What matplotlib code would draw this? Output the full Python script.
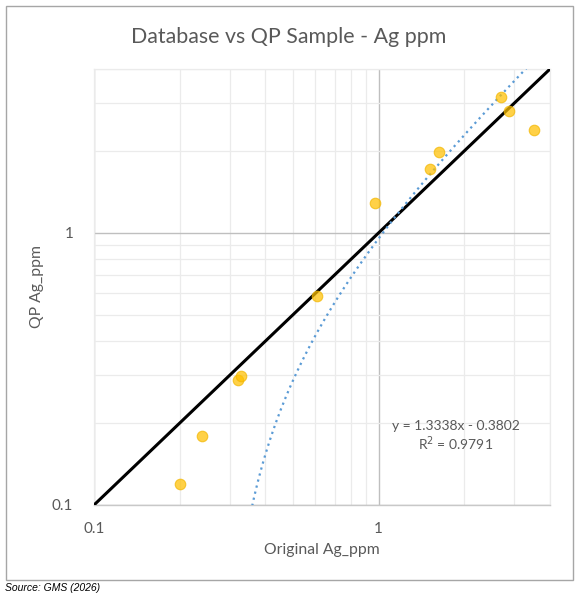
import numpy as np
import matplotlib
matplotlib.use("Agg")
import matplotlib.pyplot as plt
from matplotlib.patches import Rectangle
from matplotlib.ticker import FixedLocator, NullFormatter

# ---- data ----
original_ag = [0.200, 0.239, 0.320, 0.328, 0.608, 0.974, 1.52, 1.63, 2.69, 2.86, 3.52]
qp_ag = [0.119, 0.179, 0.287, 0.299, 0.584, 1.29, 1.72, 1.99, 3.15, 2.80, 2.38]
trend_slope = 1.3338
trend_intercept = -0.3802
r_squared = 0.9791
axis_min, axis_max = 0.1, 4
major_ticks = [0.1, 1]
major_labels = ["0.1", "1"]
minor_ticks = [0.2, 0.3, 0.4, 0.5, 0.6, 0.7, 0.8, 0.9, 2, 3, 4]

title = "Database vs QP Sample - Ag ppm"
xlabel = "Original Ag_ppm"
ylabel = "QP Ag_ppm"
source = "Source: GMS (2026)"

plt.rcParams['font.family'] = ['Lato', 'DejaVu Sans']
gray_txt = '#595959'

fig = plt.figure(figsize=(5.8, 5.97), dpi=100)
W, H = 580, 597

# outer chart frame
fig.patches.append(Rectangle((5.5 / W, 1 - 580 / H), 567 / W, 574 / H,
                             transform=fig.transFigure, fill=False,
                             edgecolor='#a6a6a6', linewidth=1.0))

ax = fig.add_axes([94 / W, 1 - 505 / H, 456 / W, 436 / H])
ax.set_xscale('log')
ax.set_yscale('log')
ax.set_xlim(axis_min, axis_max)
ax.set_ylim(axis_min, axis_max)

ax.xaxis.set_major_locator(FixedLocator(major_ticks))
ax.yaxis.set_major_locator(FixedLocator(major_ticks))
ax.xaxis.set_minor_locator(FixedLocator(minor_ticks))
ax.yaxis.set_minor_locator(FixedLocator(minor_ticks))
ax.set_xticklabels(major_labels)
ax.set_yticklabels(major_labels)
ax.xaxis.set_minor_formatter(NullFormatter())
ax.yaxis.set_minor_formatter(NullFormatter())
ax.tick_params(which='both', length=0)
ax.tick_params(axis='x', pad=12, labelsize=11, labelcolor=gray_txt)
ax.tick_params(axis='y', pad=15, labelsize=11, labelcolor=gray_txt)

ax.grid(which='minor', color='#ebebeb', linewidth=0.9)
ax.grid(which='major', color='#bfbfbf', linewidth=1.0)
ax.set_axisbelow(True)
for s in ['top', 'right', 'left']:
    ax.spines[s].set_color('#ebebeb')
    ax.spines[s].set_linewidth(0.9)
ax.spines['bottom'].set_color('#c8c8c8')
ax.spines['bottom'].set_linewidth(1.0)

# 1:1 line
ax.plot([axis_min, axis_max], [axis_min, axis_max], color='black',
        linewidth=2.2, zorder=3, solid_capstyle='butt')

# linear trendline over data range
tx = np.logspace(np.log10(min(original_ag)), np.log10(max(original_ag)), 400)
ty = trend_slope * tx + trend_intercept
ty = np.where(ty > 0, ty, np.nan)
ax.plot(tx, ty, color='#5B9BD5', linewidth=1.6, linestyle=(0, (1, 1.8)),
        zorder=4)

# points
ax.scatter(original_ag, qp_ag, s=58, facecolor='#FFC000', alpha=0.72,
           edgecolor='#F2B600', linewidth=0.8, zorder=5)

# equation
ax.text(456 / W, 1 - 426 / H, f"y = {trend_slope}x - {abs(trend_intercept)}",
        transform=fig.transFigure, ha='center', va='center',
        fontsize=10, color=gray_txt)
ax.text(456 / W, 1 - 444 / H, f"R$^2$ = {r_squared}",
        transform=fig.transFigure, ha='center', va='center',
        fontsize=10, color=gray_txt)

fig.text(289 / W, 1 - 37 / H, title, ha='center', va='center',
         fontsize=15.4, color=gray_txt)
fig.text(322 / W, 1 - 550 / H, xlabel, ha='center', va='center',
         fontsize=11.3, color=gray_txt)
fig.text(37 / W, 1 - 286 / H, ylabel, ha='center', va='center',
         rotation=90, fontsize=11.3, color=gray_txt)
fig.text(5 / W, 1 - 588 / H, source, ha='left', va='center',
         fontsize=7.5, style='italic', color='black',
         family=['Liberation Sans', 'DejaVu Sans'])

fig.savefig('out.png', dpi=100)
